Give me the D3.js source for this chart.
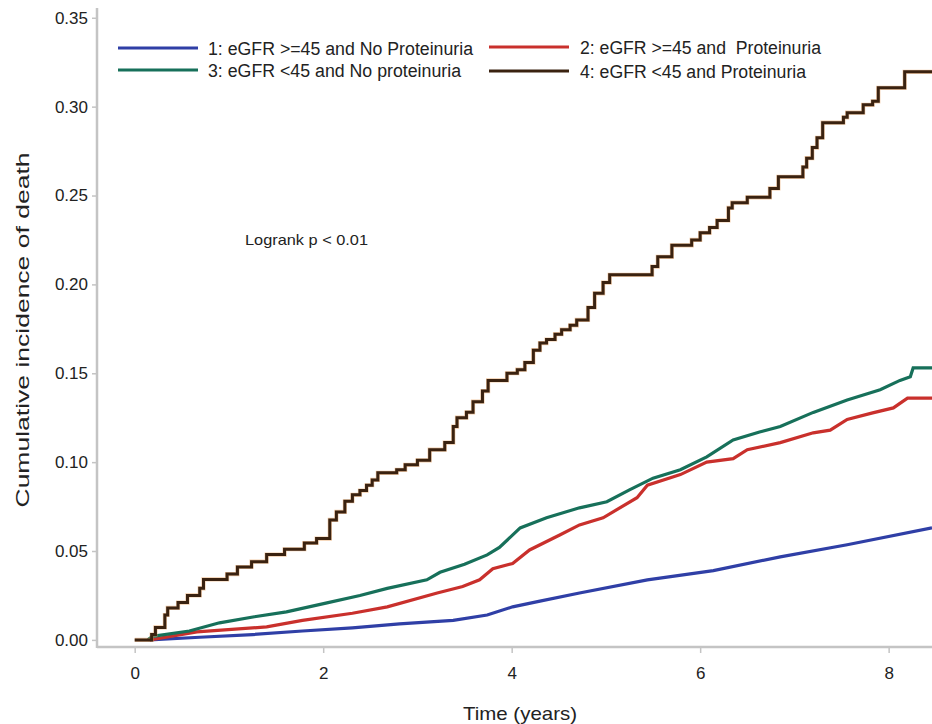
<!DOCTYPE html>
<html>
<head>
<meta charset="utf-8">
<script src="https://cdn.jsdelivr.net/npm/d3@7/dist/d3.min.js"></script>
<style>
  html, body { margin: 0; padding: 0; background: #fff; }
  svg { display: block; }
  text { font-family: "Liberation Sans Narrow", "Arial Narrow", "Liberation Sans", Arial, sans-serif; fill: #222; }
</style>
</head>
<body>
<svg id="chart" width="932" height="724"></svg>
<script>
// Cumulative incidence of death by eGFR / proteinuria group, [years, cumulative incidence]
const groupNames = [
  "1: eGFR >=45 and No Proteinuria",
  "2: eGFR >=45 and  Proteinuria",
  "3: eGFR <45 and No proteinuria",
  "4: eGFR <45 and Proteinuria"
];
const groupColors = ["#2f3fa6", "#c9302c", "#17705a", "#3a2210"];

const group1 = [[0.16,0],[0.69,0.0015],[1.25,0.003],[1.78,0.005],[2.31,0.0068],[2.81,0.009],[3.38,0.011],[3.74,0.014],[4.01,0.0186],[4.30,0.0218],[4.72,0.0264],[5.44,0.0338],[6.14,0.039],[6.85,0.0467],[7.56,0.0535],[8.46,0.063]];

const group2 = [[0.16,0],[0.66,0.0045],[1.40,0.0073],[1.78,0.011],[2.31,0.015],[2.68,0.0186],[3.21,0.0264],[3.48,0.030],[3.66,0.0338],[3.80,0.040],[4.01,0.043],[4.19,0.0506],[4.51,0.059],[4.72,0.0647],[4.97,0.0687],[5.33,0.080],[5.44,0.087],[5.79,0.093],[6.07,0.100],[6.35,0.102],[6.50,0.107],[6.85,0.111],[7.20,0.1165],[7.38,0.118],[7.56,0.124],[7.83,0.1277],[8.05,0.1305],[8.20,0.136],[8.46,0.136]];

const group3 = [[0.14,0],[0.19,0.002],[0.58,0.005],[0.90,0.0096],[1.27,0.013],[1.61,0.0158],[2.04,0.0208],[2.39,0.025],[2.68,0.029],[3.10,0.0338],[3.24,0.038],[3.50,0.0425],[3.74,0.0478],[3.87,0.052],[4.09,0.063],[4.37,0.0687],[4.72,0.0743],[5.01,0.0777],[5.25,0.0844],[5.50,0.091],[5.79,0.0957],[6.07,0.103],[6.35,0.1125],[6.63,0.117],[6.85,0.120],[7.20,0.128],[7.56,0.135],[7.91,0.1407],[8.12,0.146],[8.23,0.148],[8.26,0.153],[8.46,0.153]];

// step function: value holds from each time until the next event
const group4 = [[0,0],[0.18,0.003],[0.22,0.007],[0.32,0.014],[0.35,0.018],[0.46,0.021],[0.56,0.025],[0.69,0.029],[0.73,0.034],[0.98,0.037],[1.09,0.041],[1.24,0.044],[1.40,0.048],[1.59,0.051],[1.80,0.0545],[1.93,0.057],[2.07,0.0675],[2.14,0.072],[2.23,0.078],[2.31,0.0816],[2.39,0.084],[2.46,0.087],[2.52,0.090],[2.58,0.094],[2.78,0.0957],[2.87,0.0985],[3.00,0.101],[3.13,0.107],[3.29,0.111],[3.38,0.120],[3.42,0.125],[3.52,0.128],[3.59,0.134],[3.69,0.140],[3.75,0.146],[3.95,0.150],[4.06,0.152],[4.14,0.156],[4.23,0.163],[4.30,0.167],[4.37,0.169],[4.46,0.172],[4.53,0.1745],[4.62,0.177],[4.69,0.180],[4.81,0.187],[4.88,0.195],[4.97,0.201],[5.04,0.2054],[5.49,0.210],[5.55,0.2155],[5.70,0.222],[5.91,0.225],[6.00,0.229],[6.10,0.232],[6.18,0.236],[6.30,0.243],[6.34,0.246],[6.50,0.249],[6.74,0.254],[6.83,0.2605],[7.09,0.266],[7.13,0.271],[7.19,0.277],[7.24,0.2825],[7.30,0.291],[7.52,0.294],[7.56,0.2966],[7.73,0.301],[7.83,0.303],[7.89,0.3106],[8.17,0.3196],[8.46,0.3196]];

const xTicks = [0, 2, 4, 6, 8];
const yTicks = [0, 0.05, 0.10, 0.15, 0.20, 0.25, 0.30, 0.35];
const annotation = "Logrank p < 0.01";

const svg = d3.select("#chart");
const plotLeft = 97, plotRight = 932, plotTop = 8, plotBottom = 647;

const x = d3.scaleLinear().domain([-0.4, 8.46]).range([plotLeft, plotRight]);
const y = d3.scaleLinear().domain([-0.004, 0.3555]).range([plotBottom, plotTop]);

const axisColor = "#c4c4c4";

// y axis
const yAxis = svg.append("g")
  .attr("transform", `translate(${plotLeft},0)`)
  .call(d3.axisLeft(y).tickValues(yTicks).tickFormat(d3.format(".2f")).tickSizeOuter(0).tickSize(5).tickPadding(4));
yAxis.select(".domain").remove();
yAxis.selectAll(".tick line").attr("stroke", axisColor).attr("stroke-width", 1.5);
yAxis.selectAll(".tick text").attr("font-size", 17).attr("font-family", null).attr("fill", "#222");

// x axis
const xAxis = svg.append("g")
  .attr("transform", `translate(0,${plotBottom})`)
  .call(d3.axisBottom(x).tickValues(xTicks).tickFormat(d3.format("d")).tickSizeOuter(0).tickSize(6).tickPadding(14));
xAxis.select(".domain").remove();
xAxis.selectAll(".tick line").attr("stroke", axisColor).attr("stroke-width", 1.5);
xAxis.selectAll(".tick text").attr("font-size", 17).attr("font-family", null).attr("fill", "#222");
yAxis.attr("font-family", null);
xAxis.attr("font-family", null);

// axis lines
svg.append("line").attr("x1", plotLeft).attr("x2", plotLeft).attr("y1", plotTop).attr("y2", plotBottom + 1)
  .attr("stroke", axisColor).attr("stroke-width", 2.5);
svg.append("line").attr("x1", plotLeft).attr("x2", plotRight).attr("y1", plotBottom).attr("y2", plotBottom)
  .attr("stroke", axisColor).attr("stroke-width", 2.5);

// axis titles
svg.append("text")
  .attr("transform", `translate(23,330) rotate(-90)`)
  .attr("text-anchor", "middle").attr("dominant-baseline", "central")
  .attr("font-size", 18)
  .style("font-family", "'Liberation Sans', Arial, sans-serif")
  .attr("textLength", 355).attr("lengthAdjust", "spacingAndGlyphs")
  .text("Cumulative incidence of death");

svg.append("text")
  .attr("x", 520).attr("y", 713)
  .attr("text-anchor", "middle").attr("dominant-baseline", "central")
  .attr("font-size", 19)
  .attr("textLength", 114).attr("lengthAdjust", "spacingAndGlyphs")
  .text("Time (years)");

// curves
const series = [group1, group2, group3, group4];
const curves = [d3.curveLinear, d3.curveLinear, d3.curveLinear, d3.curveStepAfter];
svg.append("clipPath").attr("id", "plotclip")
  .append("rect").attr("x", plotLeft).attr("y", plotTop).attr("width", plotRight - plotLeft).attr("height", plotBottom - plotTop);

const plot = svg.append("g").attr("clip-path", "url(#plotclip)");
series.forEach((data, i) => {
  const line = d3.line().x(d => x(d[0])).y(d => y(d[1])).curve(curves[i]);
  if (i === 3) {
    plot.append("path").datum(data).attr("d", line)
      .attr("fill", "none").attr("stroke", "#e8a060").attr("stroke-width", 4.2).attr("stroke-opacity", 0.55);
  }
  plot.append("path").datum(data).attr("d", line)
    .attr("fill", "none").attr("stroke", groupColors[i])
    .attr("stroke-width", i === 3 ? 3 : 3.2)
    .attr("stroke-linejoin", "miter");
});

// legend
const legendPos = [
  {lx: 118, tx: 208, y: 48, w: 265},
  {lx: 489, tx: 580, y: 47, w: 241},
  {lx: 118, tx: 208, y: 70, w: 253},
  {lx: 489, tx: 580, y: 71, w: 226}
];
const legend = svg.append("g");
groupNames.forEach((name, i) => {
  const p = legendPos[i];
  legend.append("line").attr("x1", p.lx).attr("x2", p.lx + 80).attr("y1", p.y).attr("y2", p.y)
    .attr("stroke", groupColors[i]).attr("stroke-width", 3);
  legend.append("text").attr("x", p.tx).attr("y", p.y + 1)
    .attr("dominant-baseline", "central").attr("font-size", 18)
    .style("white-space", "pre")
    .attr("textLength", p.w).attr("lengthAdjust", "spacingAndGlyphs")
    .text(name);
});

// annotation
svg.append("text").attr("x", 245).attr("y", 239)
  .attr("dominant-baseline", "central").attr("font-size", 15)
  .attr("textLength", 123).attr("lengthAdjust", "spacingAndGlyphs")
  .text(annotation);
</script>
</body>
</html>
